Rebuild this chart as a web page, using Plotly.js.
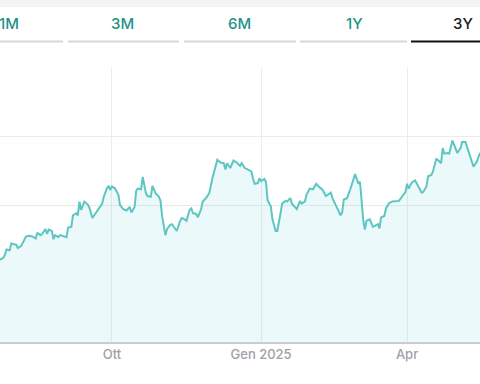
<!DOCTYPE html>
<html>
<head>
<meta charset="utf-8">
<script src="https://cdn.plot.ly/plotly-3.0.1.min.js"></script>
<style>
  html, body { margin: 0; padding: 0; background: #ffffff; }
  #chart { width: 480px; height: 384px; }
</style>
</head>
<body>
<div id="chart"></div>
<script>
// ---- data ----
const dates = [
  "2024-07-24","2024-07-26","2024-07-27","2024-07-28","2024-07-30","2024-07-31","2024-08-01","2024-08-03","2024-08-04","2024-08-06",
  "2024-08-09","2024-08-11","2024-08-13","2024-08-15","2024-08-16","2024-08-18","2024-08-19","2024-08-21","2024-08-22","2024-08-23",
  "2024-08-25","2024-08-26","2024-08-27","2024-08-29","2024-08-30","2024-09-01","2024-09-03","2024-09-04","2024-09-06","2024-09-07",
  "2024-09-09","2024-09-10","2024-09-11","2024-09-12","2024-09-13","2024-09-14","2024-09-16","2024-09-17","2024-09-19","2024-09-21",
  "2024-09-23","2024-09-25","2024-09-26","2024-09-28","2024-09-29","2024-09-30","2024-10-01","2024-10-03","2024-10-05","2024-10-06",
  "2024-10-08","2024-10-10","2024-10-12","2024-10-13","2024-10-15","2024-10-16","2024-10-17","2024-10-19","2024-10-20","2024-10-22",
  "2024-10-23","2024-10-25","2024-10-26","2024-10-28","2024-10-30","2024-10-31","2024-11-01","2024-11-03","2024-11-04","2024-11-06",
  "2024-11-07","2024-11-09","2024-11-10","2024-11-12","2024-11-13","2024-11-15","2024-11-16","2024-11-18","2024-11-19","2024-11-20",
  "2024-11-22","2024-11-23","2024-11-25","2024-11-26","2024-11-28","2024-11-30","2024-12-02","2024-12-05","2024-12-07","2024-12-09",
  "2024-12-10","2024-12-11","2024-12-13","2024-12-15","2024-12-17","2024-12-19","2024-12-20","2024-12-22","2024-12-24","2024-12-26",
  "2024-12-27","2024-12-28","2024-12-30","2024-12-31","2025-01-01","2025-01-03","2025-01-04","2025-01-05","2025-01-07","2025-01-08",
  "2025-01-10","2025-01-11","2025-01-13","2025-01-14","2025-01-16","2025-01-17","2025-01-19","2025-01-20","2025-01-23","2025-01-25",
  "2025-01-26","2025-01-28","2025-01-29","2025-01-31","2025-02-02","2025-02-04","2025-02-05","2025-02-06","2025-02-08","2025-02-10",
  "2025-02-11","2025-02-13","2025-02-14","2025-02-16","2025-02-17","2025-02-19","2025-02-20","2025-02-21","2025-02-23","2025-02-25",
  "2025-02-27","2025-02-28","2025-03-02","2025-03-03","2025-03-05","2025-03-06","2025-03-07","2025-03-09","2025-03-11","2025-03-12",
  "2025-03-14","2025-03-15","2025-03-16","2025-03-18","2025-03-19","2025-03-21","2025-03-23","2025-03-27","2025-03-29","2025-03-31",
  "2025-04-01","2025-04-02","2025-04-04","2025-04-06","2025-04-08","2025-04-10","2025-04-11","2025-04-13","2025-04-14","2025-04-16",
  "2025-04-17","2025-04-19","2025-04-20","2025-04-22","2025-04-23","2025-04-24","2025-04-26","2025-04-27","2025-04-29","2025-05-01",
  "2025-05-02","2025-05-04","2025-05-05","2025-05-07","2025-05-09","2025-05-11","2025-05-12","2025-05-14","2025-05-16"
];
const prices = [
  11.20,11.23,11.27,11.35,11.34,11.44,11.43,11.42,11.37,11.40,
  11.54,11.55,11.54,11.51,11.59,11.56,11.58,11.65,11.58,11.64,
  11.62,11.50,11.56,11.53,11.56,11.55,11.53,11.67,11.68,11.85,
  11.88,11.85,12.05,11.93,11.99,12.05,12.01,11.97,11.81,11.88,
  11.95,12.02,12.12,12.25,12.28,12.22,12.27,12.24,12.15,12.00,
  11.94,11.92,11.97,11.89,11.97,12.21,12.24,12.23,12.41,12.17,
  12.13,12.12,12.28,12.17,12.12,12.06,11.83,11.56,11.65,11.71,
  11.72,11.65,11.62,11.76,11.81,11.79,11.77,11.93,11.95,11.88,
  11.87,11.82,11.94,12.05,12.10,12.17,12.39,12.66,12.62,12.61,
  12.52,12.61,12.54,12.65,12.62,12.57,12.61,12.54,12.52,12.49,
  12.39,12.31,12.32,12.39,12.35,12.38,12.34,12.07,11.98,11.79,
  11.62,11.62,11.88,12.02,12.06,12.05,12.10,12.02,11.94,12.06,
  12.02,12.05,12.15,12.24,12.23,12.31,12.28,12.26,12.22,12.13,
  12.15,12.18,12.10,11.98,11.95,11.85,11.89,12.08,12.10,12.23,
  12.36,12.45,12.31,12.34,11.78,11.64,11.77,11.79,11.68,11.69,
  11.72,11.66,11.82,11.84,11.95,12.03,12.05,12.06,12.13,12.19,
  12.31,12.24,12.33,12.36,12.27,12.18,12.19,12.27,12.42,12.44,
  12.49,12.67,12.66,12.61,12.83,12.75,12.76,12.75,12.94,12.83,
  12.76,12.83,12.92,12.92,12.78,12.61,12.56,12.63,12.76
];
const tickDates = ["2024-10-01", "2025-01-01", "2025-04-01"];
const tickLabels = ["Ott", "Gen 2025", "Apr"];
const yGridValues = [12, 13, 14];
const tabLabels = ["1M", "3M", "6M", "1Y", "3Y"];
const activeTab = "3Y";

// ---- layout helpers (pixel -> paper, plot area: top 68, bottom 342, full width) ----
const W = 480, TOP = 68, BOT = 342;
const py = Y => (BOT - Y) / (BOT - TOP);
const px = X => X / W;

const tabCenters = [8.5, 123, 239, 354, 463];
const tabSpans = [[-50, 63], [68, 179], [184, 296], [300, 407], [411, 530]];

const shapes = [
  { type: "rect", xref: "paper", yref: "paper", x0: 0, x1: 1, y0: py(7), y1: py(-2),
    fillcolor: "#f3f4f6", line: { width: 0 }, layer: "above" }
];
const annotations = [];
tabLabels.forEach((t, i) => {
  const active = t === activeTab;
  shapes.push({ type: "line", xref: "paper", yref: "paper",
    x0: px(Math.max(tabSpans[i][0], 0)), x1: px(Math.min(tabSpans[i][1], W)),
    y0: py(41.5), y1: py(41.5),
    line: { color: active ? "#111111" : "#d3d8df", width: 2 } });
  annotations.push({ xref: "paper", yref: "paper", x: px(tabCenters[i]), y: py(23.5),
    xanchor: "center", yanchor: "middle", showarrow: false, text: t,
    font: { family: "Inter, Roboto, sans-serif", size: 15, weight: 500,
            color: active ? "#1d1d1d" : "#1f9389" } });
});

const trace = {
  x: dates, y: prices, type: "scatter", mode: "lines",
  line: { color: "#5ec6c1", width: 2 },
  fill: "tozeroy", fillcolor: "rgba(110, 214, 222, 0.14)",
  hoverinfo: "skip"
};

const layout = {
  width: 480, height: 384,
  margin: { l: 0, r: 0, t: TOP, b: 384 - BOT, pad: 0 },
  paper_bgcolor: "#ffffff", plot_bgcolor: "#ffffff",
  showlegend: false,
  xaxis: {
    type: "date", range: ["2024-07-24", "2025-05-16"],
    tickmode: "array", tickvals: tickDates, ticktext: tickLabels,
    showgrid: true, gridcolor: "#ececec", gridwidth: 1,
    showline: true, linecolor: "#c9cdd1", linewidth: 1.5,
    ticks: "", zeroline: false,
    tickfont: { family: "Inter, Roboto, sans-serif", size: 13, weight: 500, color: "#9ca1a7" }
  },
  yaxis: {
    range: [10, 14], tickmode: "array", tickvals: yGridValues,
    showticklabels: false, showgrid: true, gridcolor: "#ebebeb", gridwidth: 1,
    zeroline: false, showline: false, ticks: ""
  },
  shapes: shapes,
  annotations: annotations
};

Plotly.newPlot("chart", [trace], layout, { staticPlot: true, displayModeBar: false });
</script>
</body>
</html>
